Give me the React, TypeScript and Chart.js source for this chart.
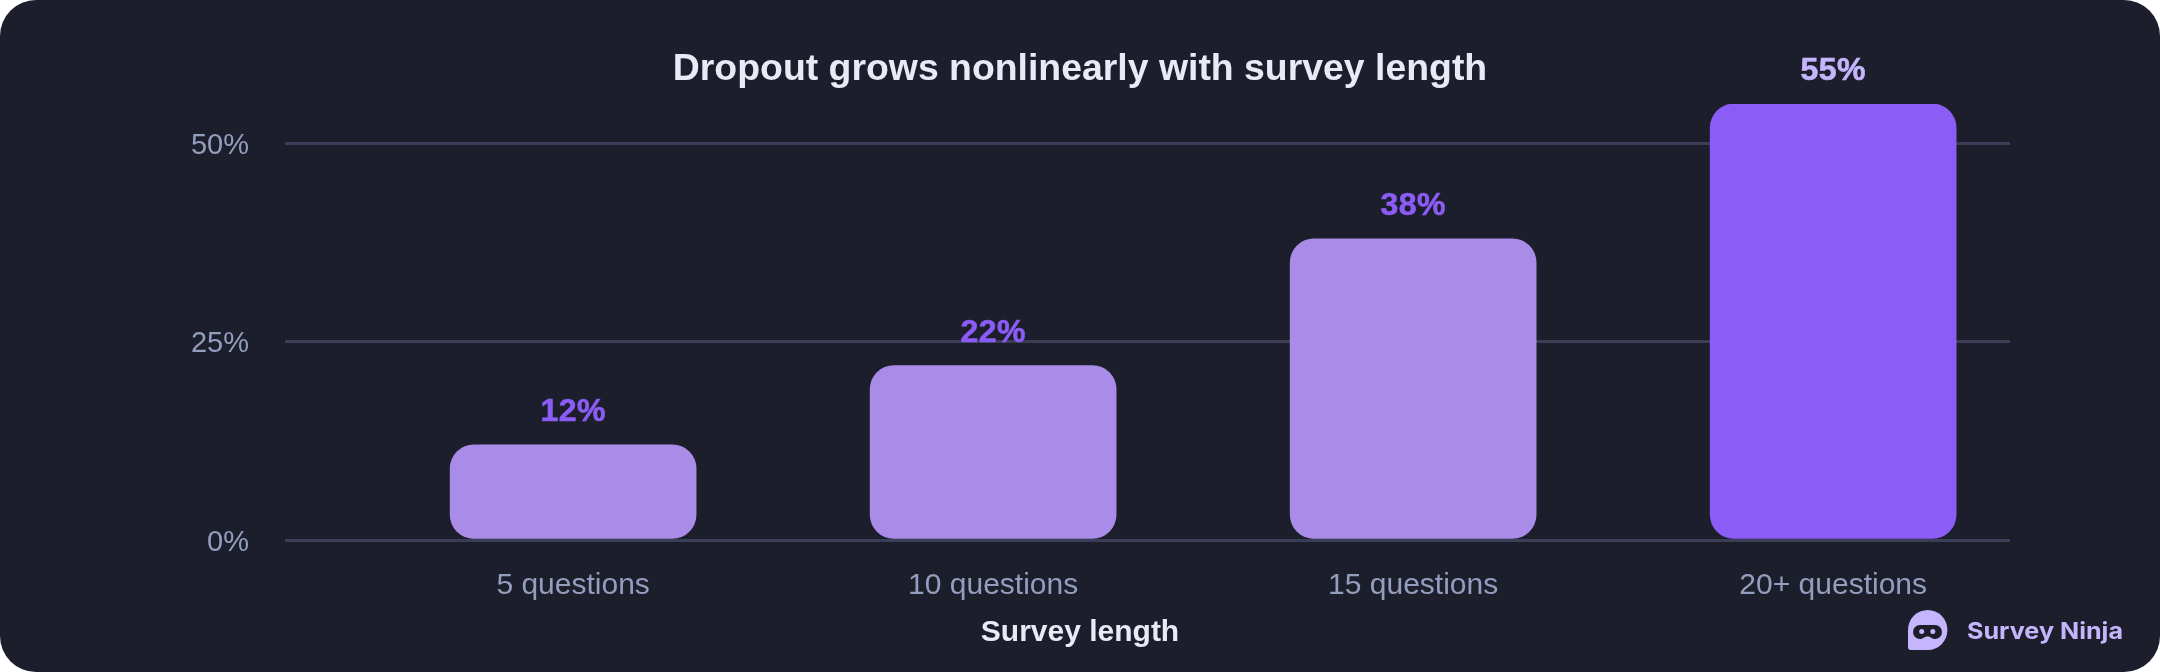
import { useEffect, useRef } from 'react'
import { Chart, registerables, type Plugin } from 'chart.js'

Chart.register(...registerables)

// ─── Data ──────────────────────────────────────────────────────────────────

const categories = ['5 questions', '10 questions', '15 questions', '20+ questions']
const dropoutPct = [12, 22, 38, 55]
const yTicks = [0, 25, 50]
const chartTitle = 'Dropout grows nonlinearly with survey length'
const xAxisTitle = 'Survey length'
const brandName = 'Survey Ninja'

// ─── Styling ───────────────────────────────────────────────────────────────

const CARD_BG = '#1c1f2b'
const GRID = '#3a3e56'
const TICK = '#949dbe'
const TITLE = '#e8eaf6'
const BAR = '#a98ce8'
const BAR_PEAK = '#8b5cf6'
const BRAND = '#c4b5fd'
const SANS = '"Liberation Sans", Arial, sans-serif'

// x runs past the first and last bar unevenly, so the axis is linear over bar indexes
const X_MIN = -0.686
const X_MAX = 3.421

/** Draws "NN%" above each bar; the tallest bar gets the lighter colour. */
const valueLabels: Plugin<'bar'> = {
  id: 'valueLabels',
  afterDatasetsDraw(chart) {
    const { ctx } = chart
    const bars = chart.getDatasetMeta(0).data
    const peak = Math.max(...dropoutPct)
    ctx.save()
    ctx.font = `bold 32px ${SANS}`
    ;(ctx as any).letterSpacing = '0.4px'
    ctx.textAlign = 'center'
    ctx.textBaseline = 'alphabetic'
    ctx.lineWidth = 0.6
    bars.forEach((bar, i) => {
      const color = dropoutPct[i] === peak ? BRAND : BAR_PEAK
      ctx.fillStyle = color
      ctx.strokeStyle = color
      ctx.fillText(`${dropoutPct[i]}%`, bar.x, bar.y - 24)
      ctx.strokeText(`${dropoutPct[i]}%`, bar.x, bar.y - 24)
    })
    ctx.restore()
  },
}

export default function App() {
  const canvasRef = useRef<HTMLCanvasElement>(null)

  useEffect(() => {
    const canvas = canvasRef.current
    if (!canvas) return

    const chart = new Chart(canvas, {
      type: 'bar',
      data: {
        datasets: [
          {
            data: dropoutPct.map((v, i) => ({ x: i, y: v })) as any,
            backgroundColor: dropoutPct.map(v => (v === Math.max(...dropoutPct) ? BAR_PEAK : BAR)),
            borderRadius: 24,
            borderSkipped: false,
            barThickness: 246,
          },
        ],
      },
      options: {
        animation: false,
        responsive: false,
        layout: { padding: 0 },
        plugins: {
          legend: { display: false },
          tooltip: { enabled: false },
          title: {
            display: true,
            text: chartTitle,
            color: TITLE,
            font: { family: SANS, size: 37.4, weight: 'bold', lineHeight: 1.2 },
            padding: { top: 47, bottom: 12.1 },
          },
          subtitle: {
            display: true,
            position: 'bottom',
            text: xAxisTitle,
            color: TITLE,
            font: { family: SANS, size: 30, weight: 'bold', lineHeight: 1.2 },
            padding: { top: 0, bottom: 21.5 },
          },
        },
        scales: {
          x: {
            type: 'linear',
            offset: false,
            min: X_MIN,
            max: X_MAX,
            grid: { display: false },
            border: { display: false },
            afterBuildTicks: axis => {
              axis.ticks = categories.map((_, i) => ({ value: i }))
            },
            afterFit: axis => {
              axis.height = 74.5
            },
            ticks: {
              autoSkip: false,
              maxRotation: 0,
              padding: 20,
              color: TICK,
              font: { family: SANS, size: 30 },
              callback: v => categories[Number(v)],
            },
          },
          y: {
            min: 0,
            max: 55,
            border: { display: false },
            grid: { color: GRID, lineWidth: 3, drawTicks: false },
            afterBuildTicks: axis => {
              axis.ticks = yTicks.map(value => ({ value }))
            },
            afterFit: axis => {
              axis.width = 285
            },
            ticks: {
              padding: 36,
              labelOffset: 2.5,
              color: TICK,
              font: { family: SANS, size: 29 },
              callback: v => `${v}%`,
            },
          },
          // empty axis on the right only reserves the margin, so the titles stay centred on the card
          margin: {
            position: 'right',
            grid: { display: false },
            border: { display: false },
            ticks: { display: false },
            afterFit: axis => {
              axis.width = 150
            },
          },
        },
      },
      plugins: [valueLabels],
    })

    return () => chart.destroy()
  }, [])

  return (
    <div
      style={{
        position: 'absolute',
        left: 0,
        top: 0,
        width: 2160,
        height: 672,
        borderRadius: 36,
        background: CARD_BG,
        overflow: 'hidden',
      }}
    >
      <canvas ref={canvasRef} width={2160} height={672} style={{ display: 'block' }} />
      {/* Brand mark */}
      <svg
        width={2160}
        height={672}
        style={{ position: 'absolute', left: 0, top: 0, pointerEvents: 'none' }}
      >
        <path
          d="M1908 630 a19.7 20 0 0 1 39.4 0 a19.7 20 0 0 1 -19.7 20 h-16.7 a3 3 0 0 1 -3 -3 z"
          fill={BRAND}
        />
        <path
          d="M1920 625 h15 a7 7 0 0 1 0 14 c-3.5 0 -4 -2.5 -7.5 -2.5 s-4 2.5 -7.5 2.5 a7 7 0 0 1 0 -14 z"
          fill={CARD_BG}
        />
        <circle cx={1921.7} cy={631.5} r={2.5} fill={BRAND} />
        <circle cx={1932.8} cy={631.5} r={2.5} fill={BRAND} />
        <text
          x={1967}
          y={639}
          fill={BRAND}
          textLength={156}
          lengthAdjust="spacingAndGlyphs"
          style={{ font: '700 23px Inter, sans-serif' }}
        >
          {brandName}
        </text>
      </svg>
    </div>
  )
}
